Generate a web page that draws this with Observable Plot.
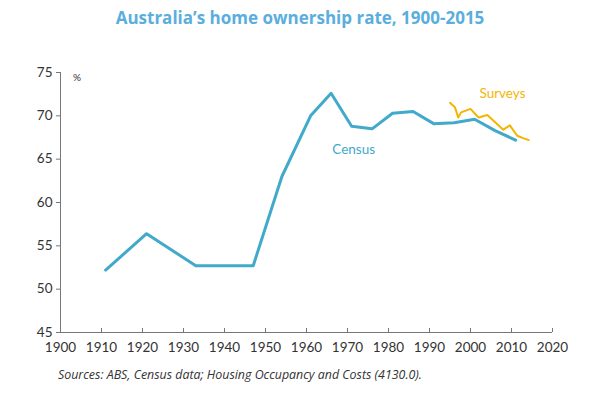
<!DOCTYPE html>
<html><head><meta charset="utf-8">
<script src="https://cdn.jsdelivr.net/npm/d3@7"></script>
<script src="https://cdn.jsdelivr.net/npm/@observablehq/plot@0.6"></script>
<style>
body{margin:0;background:#fff;width:600px;height:398px;overflow:hidden;font-family:Lato,"Open Sans",sans-serif;}
#title{height:40px;line-height:35px;text-align:center;color:#5aaede;font-family:"Open Sans",sans-serif;font-weight:700;font-size:17px;}
#caption{margin:6px 0 0 58px;font-family:"Open Sans",sans-serif;font-style:italic;font-size:12.4px;color:#333;}
</style></head><body>
<div id="title">Australia’s home ownership rate, 1900-2015</div>
<div id="chart"></div>
<div id="caption">Sources: ABS, Census data; Housing Occupancy and Costs (4130.0).</div>
<script>
const censusYears = [1911,1921,1933,1947,1954,1961,1966,1971,1976,1981,1986,1991,1996,2001,2006,2011];
const censusValues = [52.2,56.4,52.7,52.7,63.0,70.0,72.6,68.8,68.5,70.3,70.5,69.1,69.2,69.6,68.3,67.2];
const surveyYears = [1995,1996.2,1997,1997.7,2000,2001,2002,2004.1,2008,2009.6,2011.4,2013,2014.2];
const surveyValues = [71.5,71.0,69.8,70.4,70.8,70.3,69.8,70.1,68.4,68.9,67.7,67.4,67.2];
const xTicks = d3.range(1900, 2021, 10);
const yTicks = [45,50,55,60,65,70,75];
const labels = [
  {x:1971.5, y:66.1, text:"Census", color:"#41a9c9"},
  {x:2007.8, y:72.6, text:"Surveys", color:"#f5b400"}
];
const census = censusYears.map((x,i)=>({x, y:censusValues[i]}));
const surveys = surveyYears.map((x,i)=>({x, y:surveyValues[i]}));

const plot = Plot.plot({
  width:600, height:320,
  marginLeft:60, marginRight:48, marginTop:32, marginBottom:28,
  style:{fontFamily:"Lato, 'Open Sans', sans-serif", fontSize:"13px", color:"#333", background:"#fff"},
  x:{type:"linear", domain:[1900,2020], label:null},
  y:{type:"linear", domain:[45,75], label:null},
  marks:[
    Plot.axisX({ticks:xTicks, tickFormat:d=>String(d), tickSize:0, tickPadding:10, fontSize:13.5, fill:"#333", label:null}),
    Plot.ruleX(xTicks, {x:d=>d, y1:45, y2:45, insetBottom:4, stroke:"#777"}),
    Plot.axisY({ticks:yTicks, tickSize:4, tickPadding:4, fontSize:13.5, stroke:"#777", fill:"#333", label:null}),
    Plot.ruleY([45], {stroke:"#777"}),
    Plot.ruleX([1900], {stroke:"#777"}),
    Plot.line(census, {x:"x", y:"y", stroke:"#41a9c9", strokeWidth:3}),
    Plot.line(surveys, {x:"x", y:"y", stroke:"#f5b400", strokeWidth:2}),
    Plot.text(labels, {x:"x", y:"y", text:"text", fill:"color", fontSize:13.5}),
    Plot.text(["%"], {x:1904, y:74.4, text:d=>d, fontSize:10, fill:"#333"})
  ]
});
document.getElementById("chart").appendChild(plot);
</script>
</body></html>
